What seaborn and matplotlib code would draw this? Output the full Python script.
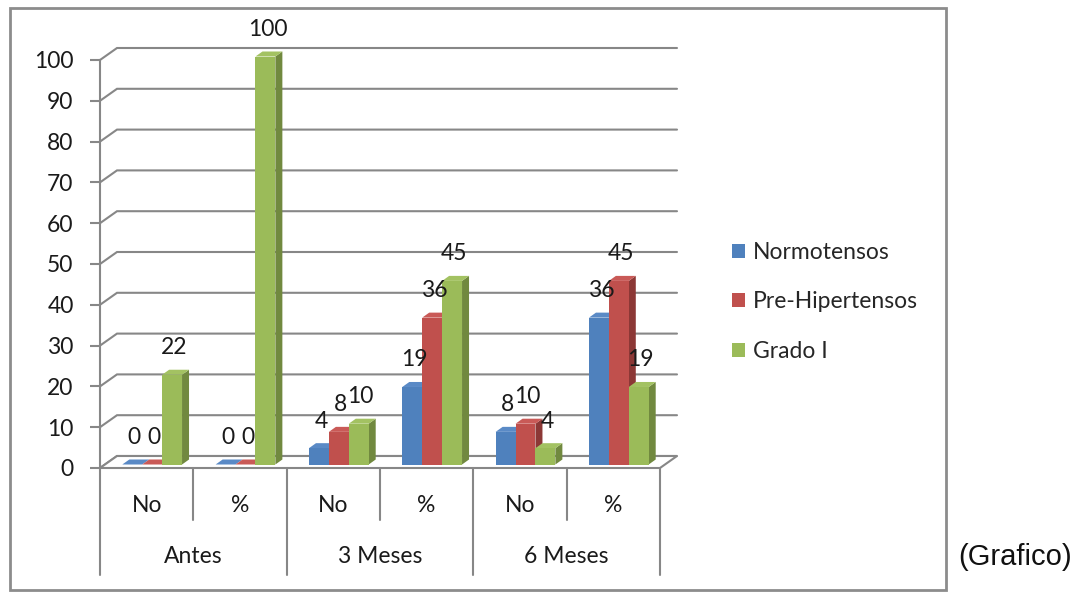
import matplotlib
matplotlib.use("Agg")
import matplotlib.pyplot as plt
from matplotlib.patches import Polygon, Rectangle, Patch
import seaborn as sns
import pandas as pd
import numpy as np

# ---- data -------------------------------------------------------------
periods = ["Antes", "3 Meses", "6 Meses"]
measures = ["No", "%"]
series = ["Normotensos", "Pre-Hipertensos", "Grado I"]
normotensos = [0, 0, 4, 19, 8, 36]
pre_hipertensos = [0, 0, 8, 36, 10, 45]
grado_i = [22, 100, 10, 45, 4, 19]
y_ticks = [0, 10, 20, 30, 40, 50, 60, 70, 80, 90, 100]

# ---- styling ----------------------------------------------------------
FACE = {"Normotensos": "#4F81BD", "Pre-Hipertensos": "#C0504D", "Grado I": "#9BBB59"}
SIDE = {"Normotensos": "#385D8A", "Pre-Hipertensos": "#8C3836", "Grado I": "#71893F"}
TOP = {"Normotensos": "#5A8AC6", "Pre-Hipertensos": "#C95A57", "Grado I": "#A3C262"}
GRID = "#878787"
FONT = "Lato"
FS = 16.5

sns.set_theme(style="white")
plt.rcParams["font.family"] = [FONT, "DejaVu Sans"]

W, H = 1088, 597
fig = plt.figure(figsize=(W / 100, H / 100), dpi=100)
fig.patch.set_facecolor("white")

# outer chart frame
fig.patches.append(Rectangle((10 / W, 7 / H), 936 / W, 582 / H, transform=fig.transFigure,
                             fill=False, edgecolor="#8C8C8C", linewidth=2))

ax = fig.add_axes([100 / W, 129 / H, 560 / W, 408 / H])
ax.set_facecolor("none")

categories = [f"{p}|{m}" for p in periods for m in measures]
df = pd.DataFrame({
    "cat": categories * 3,
    "serie": np.repeat(series, len(categories)),
    "valor": normotensos + pre_hipertensos + grado_i,
})

sns.barplot(data=df, x="cat", y="valor", hue="serie", order=categories, hue_order=series,
            palette=FACE, width=0.64, saturation=1, linewidth=0, legend=False, ax=ax)
ax.set_xlim(-0.5, len(categories) - 0.5)
ax.set_ylim(0, 100)

# the bar rectangles seaborn drew, tagged with their series
bar_patches = [p for p in ax.patches if isinstance(p, Rectangle)]
bar_series = {}
for p in bar_patches:
    fc = matplotlib.colors.to_hex(p.get_facecolor())
    for s in series:
        if fc.lower() == FACE[s].lower():
            bar_series[id(p)] = s
bars = sorted(bar_patches, key=lambda p: p.get_x())

# pixel -> data unit conversion through the axes transform
x0, y0 = ax.transData.transform((0, 0))
ux = ax.transData.transform((1, 0))[0] - x0
uy = ax.transData.transform((0, 1))[1] - y0


def px(dx, dy):
    return dx / ux, dy / uy


wdx, wdy = px(17, 12)      # depth of the back wall
fdx, fdy = px(5.5, 3.5)    # where bar fronts sit in depth
bdx, bdy = px(7, 5)        # depth of each bar
xl, xr = -0.5, len(categories) - 0.5

# back wall + side wall gridlines
for t in y_ticks:
    ax.plot([xl, xl + wdx, xr + wdx], [t, t + wdy, t + wdy], color=GRID, lw=1.5,
            clip_on=False, zorder=1, solid_joinstyle="miter")

# floor
ax.add_patch(Polygon([(xl, 0), (xr, 0), (xr + wdx, wdy), (xl + wdx, wdy)], closed=True,
                     facecolor="white", edgecolor=GRID, lw=1.5, clip_on=False, zorder=2))

# bars: front face shifted into the depth, plus side and top faces
z = 3
for p in bars:
    s = bar_series[id(p)]
    x, w, h = p.get_x(), p.get_width(), p.get_height()
    xa, xb = x + fdx, x + w + fdx
    yb, yt = fdy, h + fdy
    side = Polygon([(xb, yb), (xb, yt), (xb + bdx, yt + bdy), (xb + bdx, yb + bdy)],
                   closed=True, facecolor=SIDE[s], edgecolor="none", zorder=z, clip_on=False)
    top = Polygon([(xa, yt), (xb, yt), (xb + bdx, yt + bdy), (xa + bdx, yt + bdy)],
                  closed=True, facecolor=TOP[s], edgecolor="none", zorder=z, clip_on=False)
    ax.add_patch(side)
    ax.add_patch(top)
    p.set_x(xa)
    p.set_y(yb)
    p.set_zorder(z + 0.5)
    p.set_clip_on(False)
    z += 1
    ax.annotate(f"{h:g}", xy=(xa + w / 2, yt), xytext=(2, 27), textcoords="offset pixels",
                ha="center", va="center", fontsize=FS, color="#1A1A1A", zorder=50,
                annotation_clip=False)

# value axis
for sp in ["top", "right", "bottom"]:
    ax.spines[sp].set_visible(False)
ax.spines["left"].set_color(GRID)
ax.spines["left"].set_linewidth(1.5)
ax.set_yticks(y_ticks)
ax.set_yticklabels([str(t) for t in y_ticks], fontsize=FS, color="#1A1A1A")
ax.tick_params(axis="y", length=7, width=1.5, color=GRID, pad=12, direction="out", left=True)
ax.set_xticks([])
ax.set_xlabel("")
ax.set_ylabel("")

# two-level category axis
_, y_inner = px(0, -52)
_, y_outer = px(0, -107)
_, y_meas = px(0, -38)
_, y_per = px(0, -89)
for i in range(len(categories) + 1):
    bottom = y_outer if i % 2 == 0 else y_inner
    ax.plot([xl + i, xl + i], [0, bottom], color=GRID, lw=1.5, clip_on=False, zorder=2)
for i, c in enumerate(categories):
    ax.text(i, y_meas, c.split("|")[1], ha="center", va="center", fontsize=FS,
            color="#1A1A1A", clip_on=False)
for j, pname in enumerate(periods):
    ax.text(2 * j + 0.5, y_per, pname, ha="center", va="center", fontsize=FS,
            color="#1A1A1A", clip_on=False)

# legend
handles = [Patch(facecolor=FACE[s], edgecolor="none") for s in series]
fig.legend(handles, series, loc="center left", bbox_to_anchor=(721 / W, 1 - 302 / H),
           frameon=False, fontsize=FS, handlelength=0.55, handleheight=0.55,
           handletextpad=0.35, labelspacing=1.25, borderpad=0)

fig.text(958 / W, 1 - 557 / H, "(Grafico)", ha="left", va="center", fontsize=21,
         family=["Liberation Sans", "DejaVu Sans"], color="#111111")

fig.savefig("out.png", dpi=100, facecolor="white")
